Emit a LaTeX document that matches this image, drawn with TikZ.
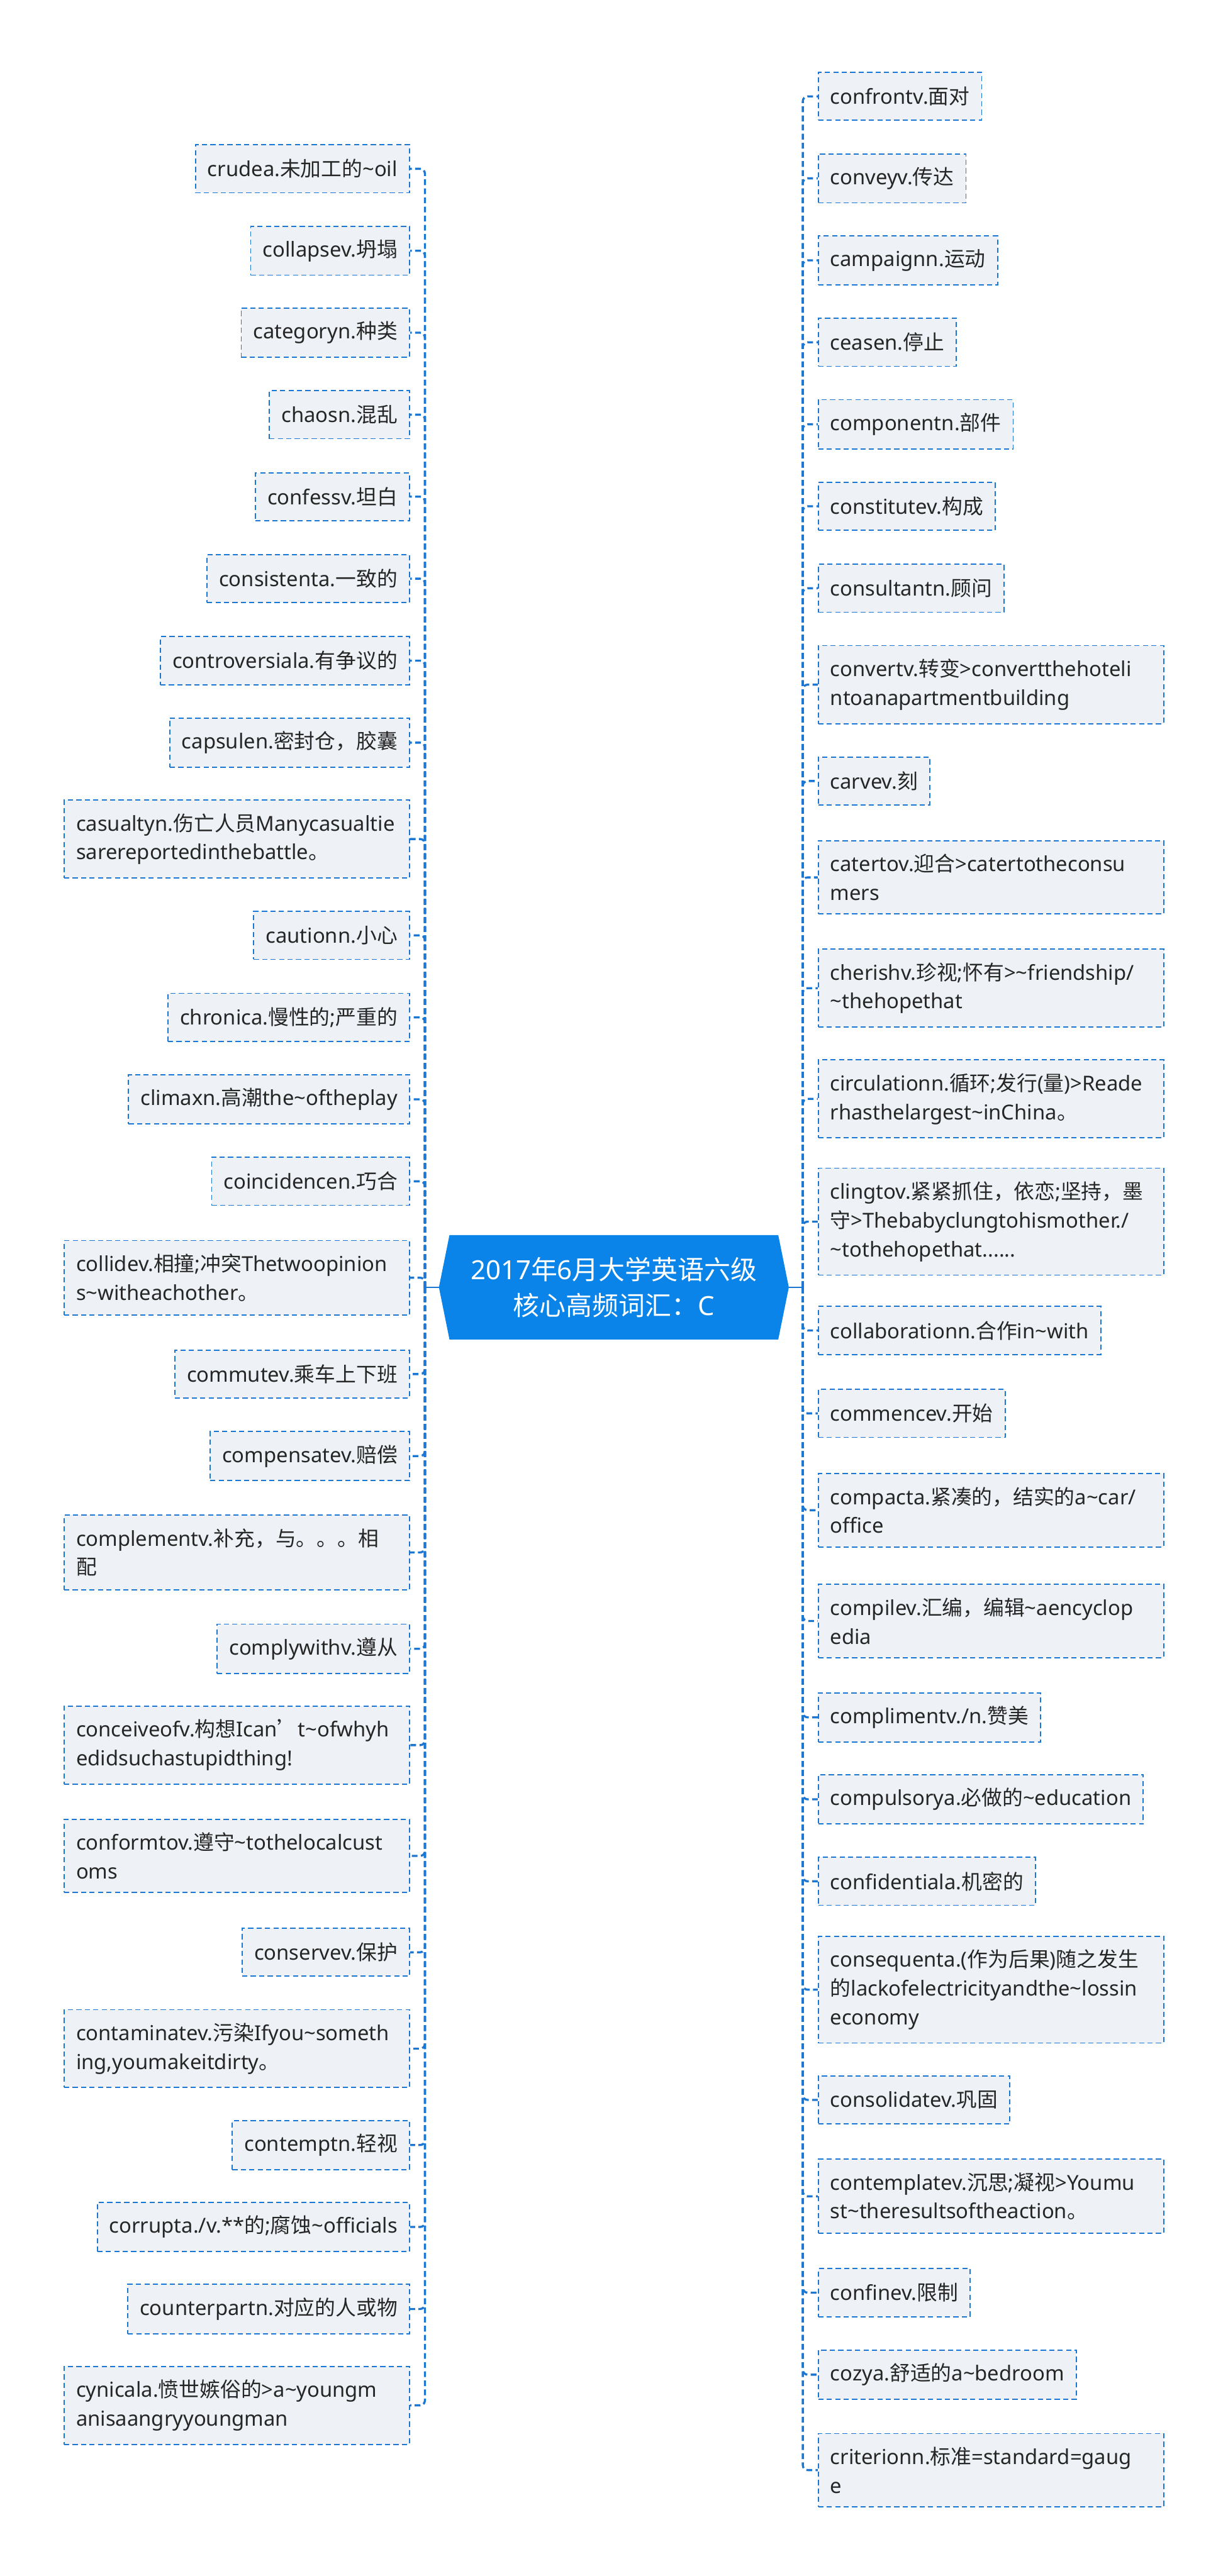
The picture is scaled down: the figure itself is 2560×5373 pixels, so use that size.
\documentclass[tikz,border=0pt]{standalone}
\usepackage{fontspec}
\setmainfont{Noto Sans}
\newfontfamily\latfont{Noto Sans}
\newfontfamily\cjkfont{Noto Sans CJK SC}
\makeatletter
\count@="2E80
\loop
  \XeTeXcharclass\count@=1
  \advance\count@ by 1
\ifnum\count@<"A000 \repeat
\count@="FF00
\loop
  \XeTeXcharclass\count@=1
  \advance\count@ by 1
\ifnum\count@<"FFF0 \repeat
\makeatother
\XeTeXcharclass"2019=1
\XeTeXinterchartoks 0 1 = {\cjkfont}
\XeTeXinterchartoks 1 0 = {\latfont}
\XeTeXinterchartoks 4095 1 = {\cjkfont}
\XeTeXinterchartoks 1 4095 = {\latfont}
\XeTeXinterchartokenstate=1
\usetikzlibrary{backgrounds}
\definecolor{rootblue}{HTML}{0A84E8}
\definecolor{lineblue}{HTML}{1C77D2}
\definecolor{boxfill}{HTML}{EEF2F6}
\definecolor{txt}{HTML}{262626}
\newcommand\boxfont{\fontsize{10.75pt}{15pt}\selectfont\hyphenpenalty=10000\relax}
\newcommand\rootfont{\fontsize{13.75pt}{18.5pt}\selectfont}
\newcommand\tld{\textasciitilde}
\tikzset{
  box/.style={draw=lineblue, fill=boxfill, line width=0.6pt, dash pattern=on 2.7pt off 1.7pt,
    inner xsep=6.25pt, inner ysep=7pt, minimum height=25pt, text=txt, font=\boxfont},
  wbox/.style={box, text width=167.5pt, align=left},
  lbox/.style={box, anchor=east},
  rbox/.style={box, anchor=west},
  lwbox/.style={wbox, anchor=east},
  rwbox/.style={wbox, anchor=west},
  rootnode/.style={minimum width=182pt, minimum height=54pt, inner sep=0pt, text=white,
    font=\rootfont, align=center},
  link/.style={draw=lineblue, line width=1.1pt, dash pattern=on 3pt off 1.75pt, rounded corners=2.5pt},
  rootlink/.style={draw=lineblue, line width=0.7pt}
}
\begin{document}
\begin{tikzpicture}[x=0.25pt,y=-0.25pt]
\useasboundingbox (0,0) rectangle (2560,5373);
\node[rootnode] (root) at (1280,2685) {2017年6月大学英语六级\\核心高频词汇：C};
\begin{scope}[on background layer]
\fill[rootblue] (root.west) -- ([xshift=5.5pt]root.north west) -- ([xshift=-5.5pt]root.north east)
  -- (root.east) -- ([xshift=-5.5pt]root.south east) -- ([xshift=5.5pt]root.south west) -- cycle;
\end{scope}
\coordinate (LT) at (886,2685);
\coordinate (RT) at (1674,2685);
% left
\node[lbox] (l1) at (855,352) {crudea.未加工的\tld oil};
\node[lbox] (l2) at (855,523) {collapsev.坍塌};
\node[lbox] (l3) at (855,694) {categoryn.种类};
\node[lbox] (l4) at (855,865) {chaosn.混乱};
\node[lbox] (l5) at (855,1036) {confessv.坦白};
\node[lbox] (l6) at (855,1207) {consistenta.一致的};
\node[lbox] (l7) at (855,1378) {controversiala.有争议的};
\node[lbox] (l8) at (855,1549) {capsulen.密封仓，胶囊};
\node[lwbox] (l9) at (855,1750) {casualtyn.伤亡人员Manycasualtie\\sarereportedinthebattle。};
\node[lbox] (l10) at (855,1951) {cautionn.小心};
\node[lbox] (l11) at (855,2122) {chronica.慢性的;严重的};
\node[lbox] (l12) at (855,2293) {climaxn.高潮the\tld oftheplay};
\node[lbox] (l13) at (855,2464) {coincidencen.巧合};
\node[lwbox] (l14) at (855,2665) {collidev.相撞;冲突Thetwoopinion\\s\tld witheachother。};
\node[lbox] (l15) at (855,2866) {commutev.乘车上下班};
\node[lbox] (l16) at (855,3037) {compensatev.赔偿};
\node[lwbox] (l17) at (855,3238) {complementv.补充，与。。。相\\配};
\node[lbox] (l18) at (855,3439) {complywithv.遵从};
\node[lwbox] (l19) at (855,3640) {conceiveofv.构想Ican’t\tld ofwhyh\\edidsuchastupidthing!};
\node[lwbox] (l20) at (855,3871) {conformtov.遵守\tld tothelocalcust\\oms};
\node[lbox] (l21) at (855,4072) {conservev.保护};
\node[lwbox] (l22) at (855,4273) {contaminatev.污染Ifyou\tld someth\\ing,youmakeitdirty。};
\node[lbox] (l23) at (855,4474) {contemptn.轻视};
\node[lbox] (l24) at (855,4645) {corrupta./v.**的;腐蚀\tld officials};
\node[lbox] (l25) at (855,4816) {counterpartn.对应的人或物};
\node[lwbox] (l26) at (855,5017) {cynicala.愤世嫉俗的>a\tld youngm\\anisaangryyoungman};
% right
\node[rbox] (r1) at (1705,201) {confrontv.面对};
\node[rbox] (r2) at (1705,372) {conveyv.传达};
\node[rbox] (r3) at (1705,543) {campaignn.运动};
\node[rbox] (r4) at (1705,714) {ceasen.停止};
\node[rbox] (r5) at (1705,885) {componentn.部件};
\node[rbox] (r6) at (1705,1056) {constitutev.构成};
\node[rbox] (r7) at (1705,1227) {consultantn.顾问};
\node[rwbox] (r8) at (1705,1428) {convertv.转变>convertthehoteli\\ntoanapartmentbuilding};
\node[rbox] (r9) at (1705,1629) {carvev.刻};
\node[rwbox] (r10) at (1705,1830) {catertov.迎合>catertotheconsu\\mers};
\node[rwbox] (r11) at (1705,2061) {cherishv.珍视;怀有>\tld friendship/\\\tld thehopethat};
\node[rwbox] (r12) at (1705,2292) {circulationn.循环;发行(量)>Reade\\rhasthelargest\tld inChina。};
\node[rwbox] (r13) at (1705,2548) {clingtov.紧紧抓住，依恋;坚持，墨\\守>Thebabyclungtohismother./\\\tld tothehopethat......};
\node[rbox] (r14) at (1705,2775) {collaborationn.合作in\tld with};
\node[rbox] (r15) at (1705,2948) {commencev.开始};
\node[rwbox] (r16) at (1705,3150) {compacta.紧凑的，结实的a\tld car/\\office};
\node[rwbox] (r17) at (1705,3381) {compilev.汇编，编辑\tld aencyclop\\edia};
\node[rbox] (r18) at (1705,3582) {complimentv./n.赞美};
\node[rbox] (r19) at (1705,3753) {compulsorya.必做的\tld education};
\node[rbox] (r20) at (1705,3924) {confidentiala.机密的};
\node[rwbox] (r21) at (1705,4150) {consequenta.(作为后果)随之发生\\的lackofelectricityandthe\tld lossin\\economy};
\node[rbox] (r22) at (1705,4380) {consolidatev.巩固};
\node[rwbox] (r23) at (1705,4581) {contemplatev.沉思;凝视>Youmu\\st\tld theresultsoftheaction。};
\node[rbox] (r24) at (1705,4782) {confinev.限制};
\node[rbox] (r25) at (1705,4953) {cozya.舒适的a\tld bedroom};
\node[rwbox] (r26) at (1705,5152) {criterionn.标准=standard=gaug\\e};
% connectors
\draw[rootlink] (root.west) -- (LT);
\draw[rootlink] (root.east) -- (RT);
\foreach \i in {1,...,26} {
  \draw[link] (LT) |- (l\i.east);
  \draw[link] (RT) |- (r\i.west);
}
\end{tikzpicture}
\end{document}
